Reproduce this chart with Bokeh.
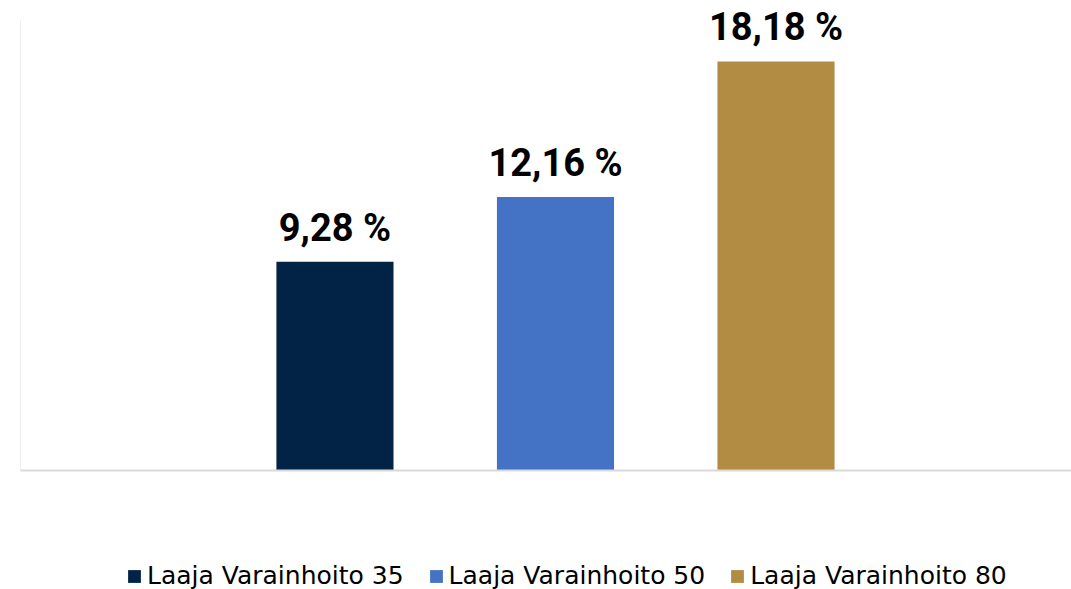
from bokeh.plotting import figure
from bokeh.models import ColumnDataSource, Range1d, LabelSet, Legend, LegendItem, Span, LinearAxis, FixedTicker
from bokeh.core.properties import value
from bokeh.embed import file_html
from bokeh.resources import INLINE

# Data
series = ["Laaja Varainhoito 35", "Laaja Varainhoito 50", "Laaja Varainhoito 80"]
returns = [9.28, 12.16, 18.18]
colors = ["#022345", "#4472C4", "#B28C43"]

labels = [f"{v:.2f}".replace(".", ",") + " %" for v in returns]
xs = list(range(len(series)))

px_per_unit = 22.5
x_start, x_end = -1.426, 3.340
y_axis_max = 20
y_top = y_axis_max + 20 / px_per_unit      # headroom for the top data label
y_bottom = -119 / px_per_unit             # room below the baseline for the legend

p = figure(width=1071, height=589,
           x_range=Range1d(x_start, x_end), y_range=Range1d(y_bottom, y_top),
           output_backend="svg", toolbar_location=None,
           x_axis_type=None, y_axis_type=None,
           min_border_left=20, min_border_right=0,
           min_border_top=0, min_border_bottom=0)
p.outline_line_color = None
p.background_fill_color = "white"
p.border_fill_color = "white"

# faint left axis line, limited to the value range
yaxis = LinearAxis(bounds=(0, y_axis_max), ticker=FixedTicker(ticks=[]),
                   axis_line_color="#eeeeee", axis_line_width=1,
                   major_tick_line_color=None, minor_tick_line_color=None,
                   major_label_text_font_size="1px", major_label_text_alpha=0)
p.add_layout(yaxis, "left")

# baseline
p.add_layout(Span(location=0, dimension="width", line_color="#d9d9d9", line_width=2))

items = []
for i in range(len(series)):
    src = ColumnDataSource(dict(x=[xs[i]], top=[returns[i]]))
    r = p.vbar(x="x", top="top", width=0.531, bottom=0, source=src,
               fill_color=colors[i], line_color=None)
    items.append(LegendItem(label=series[i], renderers=[r]))

lab_src = ColumnDataSource(dict(x=xs, top=returns, label=labels))
p.add_layout(LabelSet(x="x", y="top", text="label", source=lab_src,
                      text_align="center", text_baseline="alphabetic",
                      y_offset=21, text_font=value("Roboto"),
                      text_font_style="bold", text_font_size="38px",
                      text_color="#000000"))

legend = Legend(items=items, orientation="horizontal", location=(106, -1),
                border_line_color=None, background_fill_alpha=0,
                glyph_width=16, glyph_height=16, label_standoff=5,
                spacing=24, padding=0, margin=0,
                label_text_font="DejaVu Sans", label_text_font_size="25px",
                label_text_color="#000000")
p.add_layout(legend, "center")

open("out.html", "w").write(file_html(p, INLINE))
